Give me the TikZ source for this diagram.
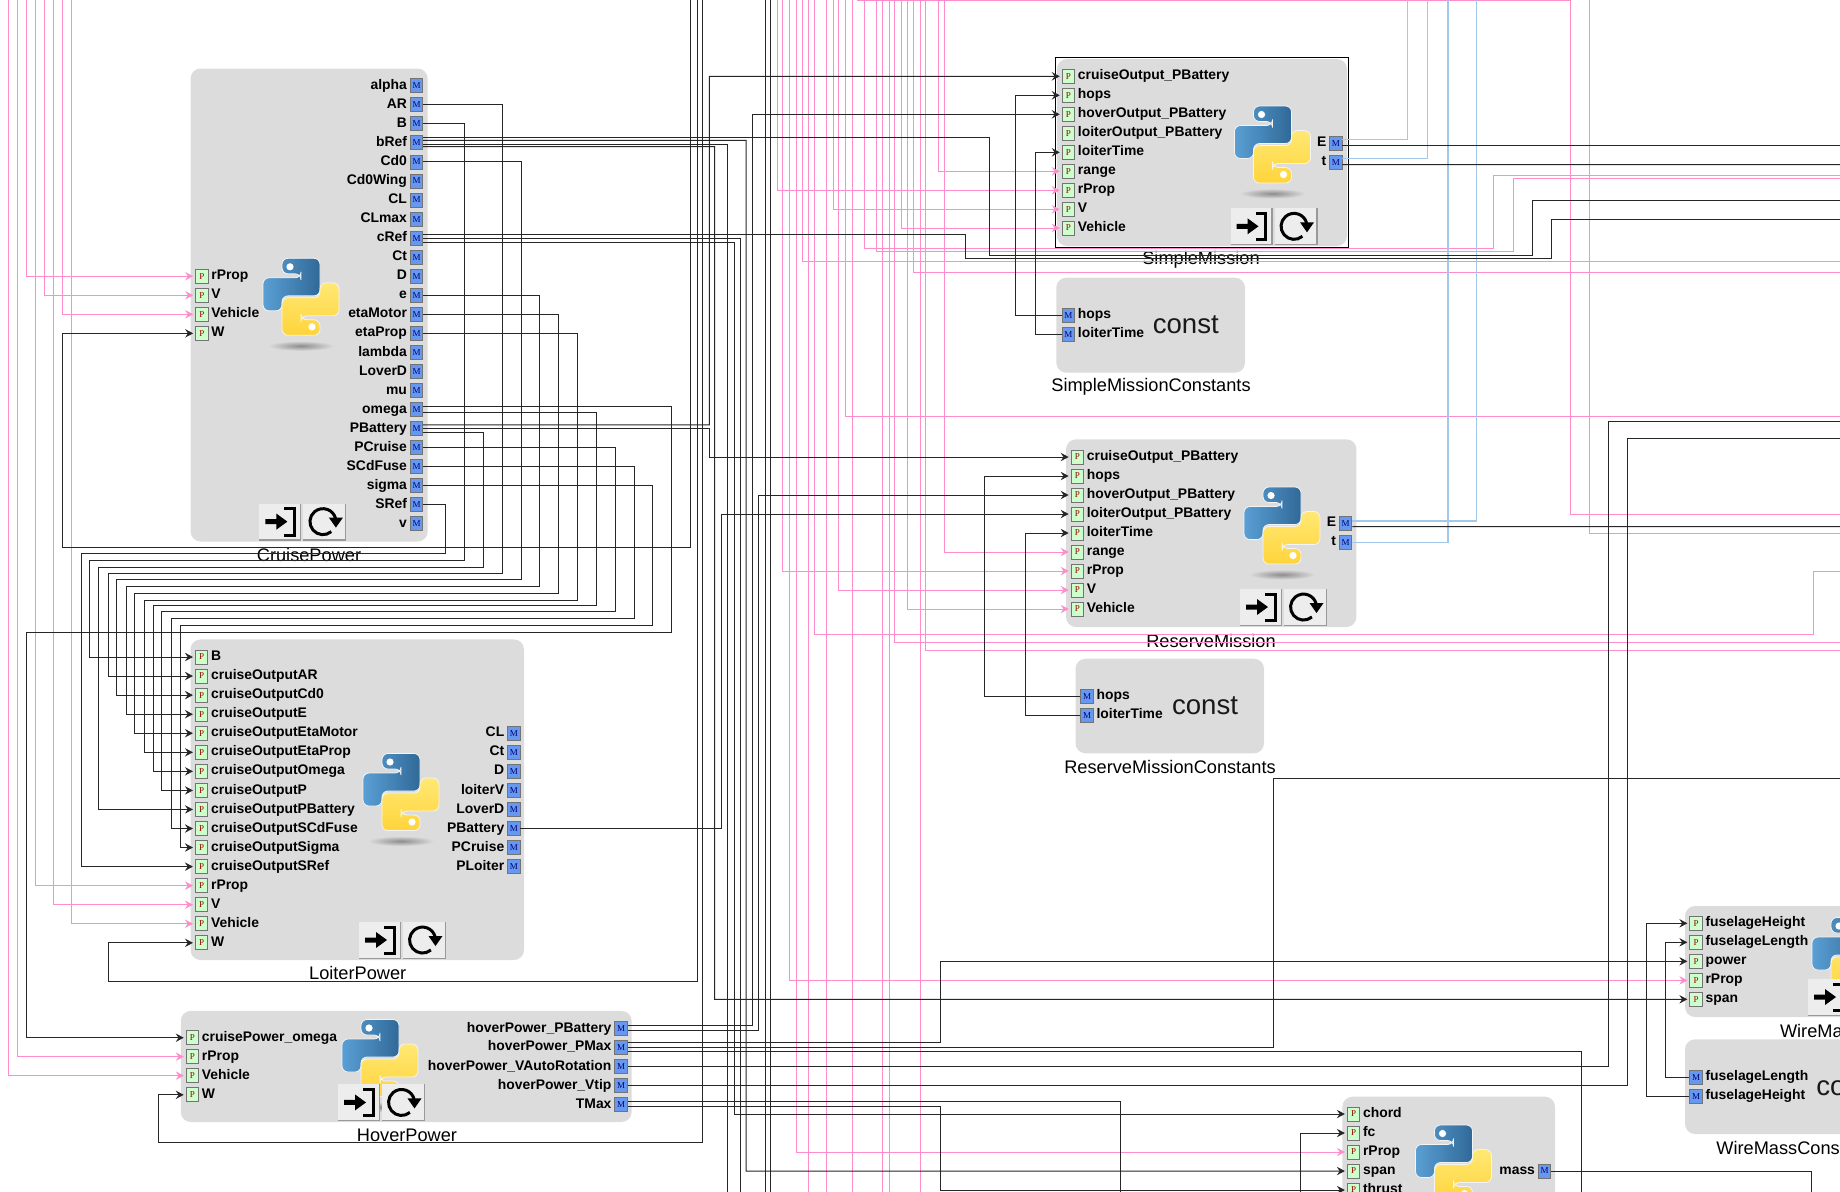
\documentclass[tikz,border=0pt]{standalone}
\usepackage{fontspec}
\setmainfont{Liberation Sans}
\newfontfamily\portfont{Liberation Serif}
\usepackage{tikz}
\usetikzlibrary{arrows.meta}

\definecolor{boxgray}{HTML}{DCDCDC}
\definecolor{portgreen}{HTML}{CCFFCC}
\definecolor{portblue}{HTML}{6699EE}
\definecolor{linkpink}{HTML}{FF8CCB}
\definecolor{linkblue}{HTML}{A4C8EA}
\definecolor{pyblueA}{HTML}{5A9FD4}
\definecolor{pyblueB}{HTML}{306998}
\definecolor{pyyellowA}{HTML}{FFE873}
\definecolor{pyyellowB}{HTML}{FFD43B}

\tikzset{
  feedtip/.tip={Stealth[length=4pt, width=4.2pt, inset=1.4pt]},
  wire/.style={draw=black!85, line width=.5pt, shorten >=1pt},
  pinkwire/.style={draw=linkpink, line width=.5pt, shorten >=1pt},
  bluewire/.style={draw=linkblue, line width=.6pt},
  blockbox/.style={fill=boxgray, rounded corners=5pt},
  pbox/.style={draw=black!55, fill=portgreen, minimum width=6.25pt, minimum height=7pt, inner sep=0pt, text=red!60!black, font=\portfont\fontsize{4.5}{5}\selectfont},
  mbox/.style={draw=black!55, fill=portblue, minimum width=6.25pt, minimum height=7pt, inner sep=0pt, text=blue!50!black, font=\portfont\fontsize{4.5}{5}\selectfont},
  portname/.style={inner sep=0pt, font=\bfseries\fontsize{6.95}{8}\selectfont},
  blockname/.style={inner sep=0pt, font=\fontsize{9.1}{10}\selectfont},
  constname/.style={inner sep=0pt, text=black!90, font=\fontsize{13.8}{15}\selectfont},
  pylogo/.pic={
    \shade[inner color=black!45, outer color=boxgray] (0, 49) ellipse [x radius=33, y radius=5];
    \draw[rounded corners=3pt, draw=white!70!boxgray, line width=.4pt, left color=pyblueA, right color=pyblueB]
      (-19, -38.5) -- (19, -38.5) -- (19, -1) -- (-19, -1) -- (-19, 14) -- (-38, 14) -- (-38, -19) -- (0, -19) -- (0, -23) -- (-19, -23) -- cycle;
    \draw[rounded corners=3pt, draw=white!70!boxgray, line width=.4pt, top color=pyyellowA, bottom color=pyyellowB]
      (19, 38.5) -- (-19, 38.5) -- (-19, 1) -- (19, 1) -- (19, -14) -- (38, -14) -- (38, 19) -- (0, 19) -- (0, 23) -- (19, 23) -- cycle;
    \fill[white] (-11, -30) circle [radius=3.6];
    \fill[white] (11, 30) circle [radius=3.6];
  },
  runbuttons/.pic={
    \fill[black!40] (0, 0) rectangle (42, 37);
    \fill[black!7] (0, 0) rectangle (40.5, 35.5);
    \fill[black!40] (44, 0) rectangle (87, 37);
    \fill[black!7] (44, 0) rectangle (85.5, 35.5);
    % enter icon
    \fill[black] (6, 15.5) -- (17, 15.5) -- (17, 10) -- (28, 18) -- (17, 26) -- (17, 20.5) -- (6, 20.5) -- cycle;
    \draw[black, line width=1.5pt, line cap=butt] (25, 5) -- (35, 5) -- (35, 31.5) -- (25, 31.5);
    % reload icon
    \draw[black, line width=1.5pt] (71.9, 28) arc [start angle=50, end angle=345, radius=13];
    \fill[black] (69.5, 14) -- (83.5, 14) -- (76.5, 24) -- cycle;
  },
}

% ports, one line each: name, x, y, label
\newcommand{\inport}[4]{
  \draw(#2, #3) node[pbox](#1) {P};
  \draw(#1.east) ++(2.5, 3.6) node[portname, anchor=base west](#1t) {#4};
}
\newcommand{\outport}[4]{
  \draw(#2, #3) node[mbox](#1) {M};
  \draw(#1.west) ++(-2.5, 3.6) node[portname, anchor=base east](#1t) {#4};
}
\newcommand{\constport}[4]{
  \draw(#2, #3) node[mbox](#1) {M};
  \draw(#1.east) ++(2.5, 3.6) node[portname, anchor=base west](#1t) {#4};
}

\begin{document}
\begin{tikzpicture}[x=.5pt, y=-.5pt]
  \useasboundingbox (0, 0) rectangle (1840, 1191);

  % CruisePower
  \fill[blockbox] (190.6, 68.5) rectangle (427.7, 541.5);
  \pic at (301, 296.8) {pylogo};
  \pic at (259.4, 503.6) {runbuttons};
  \draw(309, 555) node[blockname](cruiseName) {CruisePower};
  \inport{cpRProp}{201.8}{276.2}{rProp}
  \inport{cpV}{201.8}{295.25}{V}
  \inport{cpVehicle}{201.8}{314.3}{Vehicle}
  \inport{cpW}{201.8}{333.35}{W}
  \outport{cpAlpha}{416.5}{85.7}{alpha}
  \outport{cpAR}{416.5}{104.75}{AR}
  \outport{cpB}{416.5}{123.8}{B}
  \outport{cpBRef}{416.5}{142.85}{bRef}
  \outport{cpCdZero}{416.5}{161.9}{Cd0}
  \outport{cpCdZeroWing}{416.5}{180.95}{Cd0Wing}
  \outport{cpCL}{416.5}{200}{CL}
  \outport{cpCLmax}{416.5}{219.05}{CLmax}
  \outport{cpCRef}{416.5}{238.1}{cRef}
  \outport{cpCt}{416.5}{257.15}{Ct}
  \outport{cpD}{416.5}{276.2}{D}
  \outport{cpE}{416.5}{295.25}{e}
  \outport{cpEtaMotor}{416.5}{314.3}{etaMotor}
  \outport{cpEtaProp}{416.5}{333.35}{etaProp}
  \outport{cpLambda}{416.5}{352.4}{lambda}
  \outport{cpLoverD}{416.5}{371.45}{LoverD}
  \outport{cpMu}{416.5}{390.5}{mu}
  \outport{cpOmega}{416.5}{409.55}{omega}
  \outport{cpPBattery}{416.5}{428.6}{PBattery}
  \outport{cpPCruise}{416.5}{447.65}{PCruise}
  \outport{cpSCdFuse}{416.5}{466.7}{SCdFuse}
  \outport{cpSigma}{416.5}{485.75}{sigma}
  \outport{cpSRef}{416.5}{504.8}{SRef}
  \outport{cpSmallV}{416.5}{523.85}{v}

  % LoiterPower
  \fill[blockbox] (190.5, 639.4) rectangle (524, 960);
  \pic at (401, 792) {pylogo};
  \pic at (359, 922) {runbuttons};
  \draw(357.7, 973) node[blockname](loiterName) {LoiterPower};
  \inport{lpB}{201.6}{657}{B}
  \inport{lpAR}{201.6}{676}{cruiseOutputAR}
  \inport{lpCd}{201.6}{695.1}{cruiseOutputCd0}
  \inport{lpE}{201.6}{714.2}{cruiseOutputE}
  \inport{lpEtaMotor}{201.6}{733.2}{cruiseOutputEtaMotor}
  \inport{lpEtaProp}{201.6}{752.3}{cruiseOutputEtaProp}
  \inport{lpOmega}{201.6}{771.3}{cruiseOutputOmega}
  \inport{lpP}{201.6}{790.4}{cruiseOutputP}
  \inport{lpPBattery}{201.6}{809.4}{cruiseOutputPBattery}
  \inport{lpSCdFuse}{201.6}{828.5}{cruiseOutputSCdFuse}
  \inport{lpSigma}{201.6}{847.5}{cruiseOutputSigma}
  \inport{lpSRef}{201.6}{866.6}{cruiseOutputSRef}
  \inport{lpRProp}{201.6}{885.6}{rProp}
  \inport{lpV}{201.6}{904.7}{V}
  \inport{lpVehicle}{201.6}{923.7}{Vehicle}
  \inport{lpW}{201.6}{942.8}{W}
  \outport{loCL}{513.8}{733.2}{CL}
  \outport{loCt}{513.8}{752.3}{Ct}
  \outport{loD}{513.8}{771.3}{D}
  \outport{loLoiterV}{513.8}{790.4}{loiterV}
  \outport{loLoverD}{513.8}{809.4}{LoverD}
  \outport{loPBattery}{513.8}{828.5}{PBattery}
  \outport{loPCruise}{513.8}{847.5}{PCruise}
  \outport{loPLoiter}{513.8}{866.6}{PLoiter}

  % HoverPower
  \fill[blockbox] (180.8, 1010.9) rectangle (631.6, 1122);
  \pic at (380, 1058) {pylogo};
  \pic at (338, 1084.4) {runbuttons};
  \draw(407, 1135.4) node[blockname](hoverName) {HoverPower};
  \inport{hpOmega}{192.4}{1037.7}{cruisePower\_omega}
  \inport{hpRProp}{192.4}{1056.6}{rProp}
  \inport{hpVehicle}{192.4}{1075.6}{Vehicle}
  \inport{hpW}{192.4}{1094.8}{W}
  \outport{hoPBattery}{621}{1028.5}{hoverPower\_PBattery}
  \outport{hoPMax}{621}{1047.3}{hoverPower\_PMax}
  \outport{hoVAuto}{621}{1066.4}{hoverPower\_VAutoRotation}
  \outport{hoVtip}{621}{1085.5}{hoverPower\_Vtip}
  \outport{hoTMax}{621}{1104.4}{TMax}

  % SimpleMission
  \fill[blockbox] (1057, 59) rectangle (1347, 246);
  \draw[black, line width=.6pt] (1055.4, 57.3) rectangle (1348.7, 247.3);
  \pic at (1272.5, 144.5) {pylogo};
  \pic at (1230.5, 208.3) {runbuttons};
  \draw(1201, 260) node[blockname](simpleName) {SimpleMission};
  \inport{smCruise}{1068.4}{76.3}{cruiseOutput\_PBattery}
  \inport{smHops}{1068.4}{95.3}{hops}
  \inport{smHover}{1068.4}{114.3}{hoverOutput\_PBattery}
  \inport{smLoiter}{1068.4}{133.3}{loiterOutput\_PBattery}
  \inport{smTime}{1068.4}{152.3}{loiterTime}
  \inport{smRange}{1068.4}{171.3}{range}
  \inport{smRProp}{1068.4}{190.3}{rProp}
  \inport{smV}{1068.4}{209.3}{V}
  \inport{smVehicle}{1068.4}{228}{Vehicle}
  \outport{smE}{1335.8}{143.3}{E}
  \outport{smT}{1335.8}{162.3}{t}

  % SimpleMissionConstants
  \fill[blockbox] (1056.3, 277.7) rectangle (1245, 372.7);
  \draw(1185.8, 325) node[constname](simpleConst) {const};
  \draw(1151, 386.7) node[blockname](simpleConstName) {SimpleMissionConstants};
  \constport{scHops}{1068.4}{315.3}{hops}
  \constport{scTime}{1068.4}{334.3}{loiterTime}

  % ReserveMission
  \fill[blockbox] (1066, 439.3) rectangle (1356.4, 627);
  \pic at (1282, 525.5) {pylogo};
  \pic at (1240, 589) {runbuttons};
  \draw(1211, 640.7) node[blockname](reserveName) {ReserveMission};
  \inport{rmCruise}{1077.3}{457}{cruiseOutput\_PBattery}
  \inport{rmHops}{1077.3}{476}{hops}
  \inport{rmHover}{1077.3}{495}{hoverOutput\_PBattery}
  \inport{rmLoiter}{1077.3}{514}{loiterOutput\_PBattery}
  \inport{rmTime}{1077.3}{533}{loiterTime}
  \inport{rmRange}{1077.3}{552}{range}
  \inport{rmRProp}{1077.3}{571}{rProp}
  \inport{rmV}{1077.3}{590}{V}
  \inport{rmVehicle}{1077.3}{609}{Vehicle}
  \outport{rmE}{1345.6}{523.3}{E}
  \outport{rmT}{1345.6}{542.3}{t}

  % ReserveMissionConstants
  \fill[blockbox] (1075.5, 658.7) rectangle (1264, 753.3);
  \draw(1205, 705.7) node[constname](reserveConst) {const};
  \draw(1170, 767.3) node[blockname](reserveConstName) {ReserveMissionConstants};
  \constport{rcHops}{1087}{696.3}{hops}
  \constport{rcTime}{1087}{715.3}{loiterTime}

  % WireMass
  \fill[blockbox] (1685, 906) rectangle (1900, 1017);
  \pic at (1850, 956) {pylogo};
  \pic at (1808, 979) {runbuttons};
  \draw(1779.6, 1030.7) node[blockname, anchor=west](wireName) {WireMass};
  \inport{wmHeight}{1696}{923.3}{fuselageHeight}
  \inport{wmLength}{1696}{942.3}{fuselageLength}
  \inport{wmPower}{1696}{961.3}{power}
  \inport{wmRProp}{1696}{980.3}{rProp}
  \inport{wmSpan}{1696}{999.3}{span}

  % WireMassConstants
  \fill[blockbox] (1685, 1039.3) rectangle (1900, 1134);
  \draw(1816, 1087) node[constname, anchor=west](wireConst) {const};
  \draw(1716, 1147.7) node[blockname, anchor=west](wireConstName) {WireMassConstants};
  \constport{wcLength}{1696}{1077.3}{fuselageLength}
  \constport{wcHeight}{1696}{1096.3}{fuselageHeight}

  % block at the bottom
  \fill[blockbox] (1342.4, 1096.7) rectangle (1555, 1260);
  \pic at (1453.5, 1163.5) {pylogo};
  \inport{bmChord}{1353.5}{1114}{chord}
  \inport{bmFc}{1353.5}{1133}{fc}
  \inport{bmRProp}{1353.5}{1152}{rProp}
  \inport{bmSpan}{1353.5}{1171}{span}
  \inport{bmThrust}{1353.5}{1190}{thrust}
  \outport{bmMass}{1544.5}{1171}{mass}

  % free ends above the top edge
  \coordinate (topA) at (8, -4);
  \coordinate (topB) at (17.4, -4);
  \coordinate (topC) at (26.8, -4);
  \coordinate (topD) at (35, -4);
  \coordinate (topE) at (44.6, -4);
  \coordinate (topF) at (53.9, -4);
  \coordinate (topG) at (62, -4);
  \coordinate (topH) at (71.6, -4);
  \coordinate (topI) at (777.3, -4);
  \coordinate (topJ) at (782.7, -4);
  \coordinate (topK) at (789.3, -4);
  \coordinate (topL) at (796.4, -4);
  \coordinate (topM) at (802, -4);
  \coordinate (topN) at (808.3, -4);
  \coordinate (topO) at (814.5, -4);
  \coordinate (topP) at (826.3, -4);
  \coordinate (topQ) at (833.3, -4);
  \coordinate (topR) at (838.7, -4);
  \coordinate (topS) at (845.3, -4);
  \coordinate (topT) at (852.3, -4);
  \coordinate (topU) at (857.3, -4);
  \coordinate (topV) at (864.3, -4);
  \coordinate (topW) at (876.7, -4);
  \coordinate (topX) at (882.3, -4);
  \coordinate (topY) at (889, -4);
  \coordinate (topZ) at (894.5, -4);
  \coordinate (topAA) at (901.3, -4);
  \coordinate (topAB) at (907.3, -4);
  \coordinate (topAC) at (913.7, -4);
  \coordinate (topAD) at (920, -4);
  \coordinate (topAE) at (925.7, -4);
  \coordinate (topAF) at (938, -4);
  \coordinate (topAG) at (944.7, -4);
  \coordinate (topAH) at (1589, -4);
  \coordinate (topWa) at (690.6, -4);
  \coordinate (topWb) at (697, -4);
  \coordinate (topWc) at (702.4, -4);
  \coordinate (topWd) at (765, -4);
  \coordinate (topWe) at (770.7, -4);
  \coordinate (topEa) at (1407.4, -4);
  \coordinate (topEb) at (1427.4, -4);
  \coordinate (topEc) at (1448, -4);
  \coordinate (topEd) at (1476.7, -4);

  % free ends below the bottom edge
  \coordinate (lowA) at (808.3, 1195);
  \coordinate (lowB) at (826.3, 1195);
  \coordinate (lowC) at (852.3, 1195);
  \coordinate (lowD) at (882.3, 1195);
  \coordinate (lowE) at (889, 1195);
  \coordinate (lowF) at (920, 1195);
  \coordinate (lowG) at (765, 1195);
  \coordinate (lowH) at (770.7, 1195);
  \coordinate (lowI) at (727, 1195);
  \coordinate (lowJ) at (740.7, 1195);
  \coordinate (lowK) at (1120.3, 1195);
  \coordinate (lowL) at (1581, 1195);
  \coordinate (lowM) at (1300, 1195);
  \coordinate (lowN) at (1811, 1195);

  % free ends past the right edge
  \coordinate (farA) at (1846, 200);
  \coordinate (farB) at (1846, 219.3);
  \coordinate (farC) at (1846, 145.4);
  \coordinate (farD) at (1846, 164.6);
  \coordinate (farE) at (1846, 526.6);
  \coordinate (farF) at (1846, 421.4);
  \coordinate (farG) at (1846, 438.2);
  \coordinate (farH) at (1846, 778);
  \coordinate (farI) at (1846, 261.4);
  \coordinate (farJ) at (1846, 571.3);
  \coordinate (farK) at (1846, 416.4);
  \coordinate (farL) at (1846, 514.3);
  \coordinate (farM) at (1846, 175.7);
  \coordinate (farN) at (1846, 178.7);
  \coordinate (farO) at (1846, 642.3);
  \coordinate (farP) at (1846, 272.2);
  \coordinate (farQ) at (1846, 650);
  \coordinate (farR) at (1846, 533);

  % pink parameter links
  \draw[pinkwire,->,>=feedtip] (topA) |- (hpVehicle.west);
  \draw[pinkwire,->,>=feedtip] (topB) |- (hpRProp.west);
  \draw[pinkwire,->,>=feedtip] (topC) |- (cpRProp.west);
  \draw[pinkwire,->,>=feedtip] (topD) |- (lpRProp.west);
  \draw[pinkwire,->,>=feedtip] (topE) |- (cpV.west);
  \draw[pinkwire,->,>=feedtip] (topF) |- (lpV.west);
  \draw[pinkwire,->,>=feedtip] (topG) |- (cpVehicle.west);
  \draw[pinkwire,->,>=feedtip] (topH) |- (lpVehicle.west);
  \draw[pinkwire,->,>=feedtip] (topI) |- (smRProp.west);
  \draw[pinkwire,->,>=feedtip] (topJ) |- (rmRProp.west);
  \draw[pinkwire,->,>=feedtip] (topK) |- (wmRProp.west);
  \draw[pinkwire,->,>=feedtip] (topL) |- (bmRProp.west);
  \draw[pinkwire,->,>=feedtip] (topQ) |- (smV.west);
  \draw[pinkwire,->,>=feedtip] (topR) |- (rmV.west);
  \draw[pinkwire,->,>=feedtip] (topAA) |- (smVehicle.west);
  \draw[pinkwire,->,>=feedtip] (topAB) |- (rmVehicle.west);
  \draw[pinkwire,->,>=feedtip] (topAF) |- (smRange.west);
  \draw[pinkwire,->,>=feedtip] (topAG) |- (rmRange.west);
  \draw[pinkwire] (topM) |- (farI);
  \draw[pinkwire] (topO) |- (1813.3, 634) |- (farJ);
  \draw[pinkwire] (topS) |- (farK);
  \draw[pinkwire] (topU) |- (1570.3, .5) |- (farL);
  \draw[pinkwire] (topV) |- (1493.9, 248.7) |- (farM);
  \draw[pinkwire] (topW) |- (1513, 251.3) |- (farN);
  \draw[pinkwire] (topZ) |- (farO);
  \draw[pinkwire] (topAC) |- (farP);
  \draw[pinkwire] (topAE) |- (farQ);
  \draw[pinkwire] (topAH) |- (farR);
  \draw[pinkwire] (topN) -- (lowA);
  \draw[pinkwire] (topP) -- (lowB);
  \draw[pinkwire] (topT) -- (lowC);
  \draw[pinkwire] (topX) -- (lowD);
  \draw[pinkwire] (topY) -- (lowE);
  \draw[pinkwire] (topAD) -- (lowF);

  % blue results
  \draw[bluewire] (smE.east) ++(0, -3.6) -| (topEa);
  \draw[bluewire] (smT.east) ++(0, -3.5) -| (topEb);
  \draw[bluewire] (rmT.east) -| (topEc);
  \draw[bluewire] (rmE.east) ++(0, -2.4) -| (topEd);
  \draw[wire] (smE.east) ++(0, 2.1) -- (farC);
  \draw[wire] (smT.east) ++(0, 2.3) -- (farD);
  \draw[wire] (rmE.east) ++(0, 3.3) -- (farE);

  % cruise outputs into the loiter block
  \draw[wire,->,>=feedtip] (cpSRef.east) -| (445.5, 553.4) -- (81.4, 553.4) |- (lpSRef.west);
  \draw[wire,->,>=feedtip] (cpB.east) -| (464.7, 560.6) -- (89.7, 560.6) |- (lpB.west);
  \draw[wire,->,>=feedtip] (cpPBattery.east) ++(0, 3.9) -| (483.5, 567) -- (98.8, 567) |- (lpPBattery.west);
  \draw[wire,->,>=feedtip] (cpAR.east) -| (502.7, 573) -- (108.6, 573) |- (lpAR.west);
  \draw[wire,->,>=feedtip] (cpCdZero.east) -| (521.4, 579.4) -- (116.7, 579.4) |- (lpCd.west);
  \draw[wire,->,>=feedtip] (cpE.east) -| (539.3, 586.3) -- (126.2, 586.3) |- (lpE.west);
  \draw[wire,->,>=feedtip] (cpEtaMotor.east) -| (558.5, 593) -- (134.5, 593) |- (lpEtaMotor.west);
  \draw[wire,->,>=feedtip] (cpEtaProp.east) -| (577.8, 600) -- (144, 600) |- (lpEtaProp.west);
  \draw[wire,->,>=feedtip] (cpOmega.east) ++(0, 2.6) -| (596.6, 605.3) -- (153.7, 605.3) |- (lpOmega.west);
  \draw[wire,->,>=feedtip] (cpPCruise.east) -| (615.6, 611.8) -- (161.4, 611.8) |- (lpP.west);
  \draw[wire,->,>=feedtip] (cpSCdFuse.east) -| (634.5, 618.7) -- (171, 618.7) |- (lpSCdFuse.west);
  \draw[wire,->,>=feedtip] (cpSigma.east) -| (652.4, 625.6) -- (180.3, 625.6) |- (lpSigma.west);
  \draw[wire,->,>=feedtip] (cpOmega.east) ++(0, -2.8) -| (671.4, 632.2) -- (26.7, 632.2) |- (hpOmega.west);

  % W feeds
  \draw[wire,->,>=feedtip] (topWa) |- (62, 547) |- (cpW.west);
  \draw[wire,->,>=feedtip] (topWb) |- (108.6, 981) |- (lpW.west);
  \draw[wire,->,>=feedtip] (topWc) |- (158.5, 1142.3) |- (hpW.west);
  \draw[wire] (topWd) -- (lowG);
  \draw[wire] (topWe) -- (lowH);

  % battery power into the missions
  \draw[wire,->,>=feedtip] (cpPBattery.east) ++(0, -3.8) -- (709.4, 424.8) |- (smCruise.west);
  \draw[wire,->,>=feedtip] (cpPBattery.east) -- (709.4, 428.6) |- (rmCruise.west);
  \draw[wire,->,>=feedtip] (hoPBattery.east) ++(0, -3.1) -- (752.8, 1025.4) |- (smHover.west);
  \draw[wire,->,>=feedtip] (hoPBattery.east) ++(0, 2.3) -- (758.3, 1030.8) |- (rmHover.west);
  \draw[wire,->,>=feedtip] (loPBattery.east) -| (721.6, 700) |- (rmLoiter.west);

  % bRef and cRef
  \draw[wire] (cpBRef.east) ++(0, -5.5) -| (989.4, 255.7) -| (1532.4, 200) -- (farA);
  \draw[wire,->,>=feedtip] (cpBRef.east) ++(0, -2.5) -- (746, 140.3) |- (bmSpan.west);
  \draw[wire] (cpBRef.east) ++(0, 1.85) -| (lowI);
  \draw[wire,->,>=feedtip] (cpBRef.east) ++(0, 3.85) -- (714.7, 146.7) |- (wmSpan.west);
  \draw[wire] (cpCRef.east) ++(0, -3.8) -| (965, 258.3) -| (1551.4, 219.3) -- (farB);
  \draw[wire] (cpCRef.east) -| (lowJ);
  \draw[wire,->,>=feedtip] (cpCRef.east) ++(0, 3.9) -- (734, 242) |- (bmChord.west);

  % hover outputs
  \draw[wire,->,>=feedtip] (hoPMax.east) ++(0, -4.6) -- (940.3, 1042.7) |- (wmPower.west);
  \draw[wire] (hoPMax.east) -- (1273.8, 1047.3) |- (farH);
  \draw[wire] (hoPMax.east) ++(0, 4) -| (lowL);
  \draw[wire] (hoVAuto.east) -- (1608.3, 1066.4) |- (farF);
  \draw[wire] (hoVtip.east) -- (1627.3, 1085.5) |- (farG);
  \draw[wire] (hoTMax.east) ++(0, -2.9) -| (lowK);
  \draw[wire,->,>=feedtip] (hoTMax.east) ++(0, 2.3) -- (940.3, 1106.7) |- (bmThrust.west);

  % constants
  \draw[wire,->,>=feedtip] (scHops.west) -- (1015.3, 315.3) |- (smHops.west);
  \draw[wire,->,>=feedtip] (scTime.west) -- (1035.8, 334.3) |- (smTime.west);
  \draw[wire,->,>=feedtip] (rcHops.west) -- (984, 696.3) |- (rmHops.west);
  \draw[wire,->,>=feedtip] (rcTime.west) -- (1025, 715.3) |- (rmTime.west);
  \draw[wire,->,>=feedtip] (wcLength.west) -- (1665.3, 1077.3) |- (wmLength.west);
  \draw[wire,->,>=feedtip] (wcHeight.west) -- (1646.5, 1096.3) |- (wmHeight.west);

  % rest of the bottom block
  \draw[wire,->,>=feedtip] (lowM) |- (bmFc.west);
  \draw[wire] (bmMass.east) -| (lowN);
\end{tikzpicture}
\end{document}
